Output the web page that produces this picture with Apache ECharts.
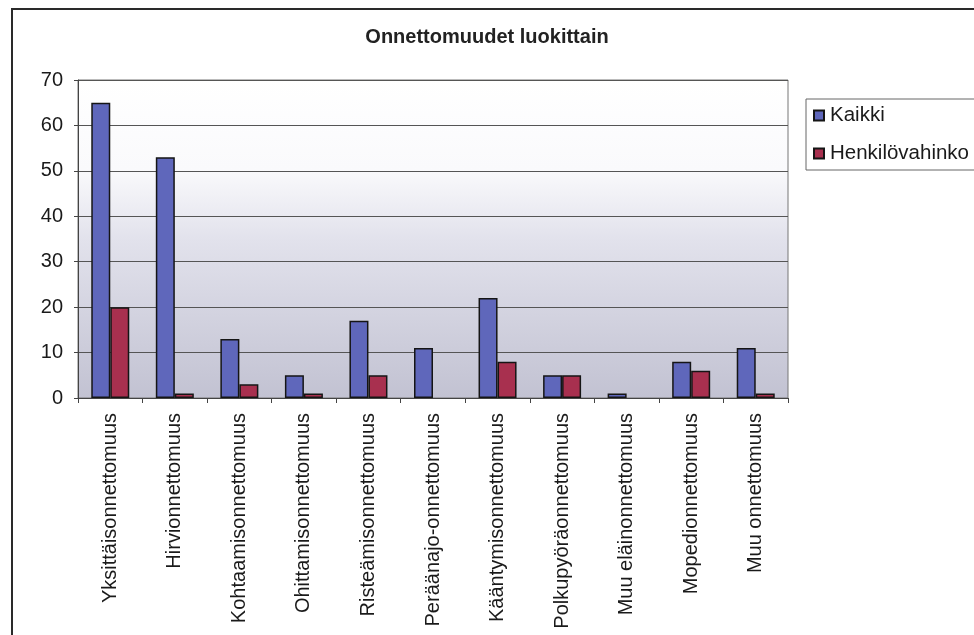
<!DOCTYPE html>
<html>
<head>
<meta charset="utf-8">
<script src="https://cdn.jsdelivr.net/npm/echarts@6/dist/echarts.min.js"></script>
<style>
html,body{margin:0;padding:0;background:#fff;}
#c{width:974px;height:635px;}
</style>
</head>
<body>
<div id="c"></div>
<script>
var chartTitle = 'Onnettomuudet luokittain';
var categories = ['Yksittäisonnettomuus','Hirvionnettomuus','Kohtaamisonnettomuus','Ohittamisonnettomuus','Risteämisonnettomuus','Peräänajo-onnettomuus','Kääntymisonnettomuus','Polkupyöräonnettomuus','Muu eläinonnettomuus','Mopedionnettomuus','Muu onnettomuus'];
var seriesNames = ['Kaikki','Henkilövahinko'];
var kaikki = [65, 53, 13, 5, 17, 11, 22, 5, 1, 8, 11];
var henkilovahinko = [20, 1, 3, 1, 5, 0, 8, 5, 0, 6, 1];
var yTicks = [0, 10, 20, 30, 40, 50, 60, 70];

// zero values draw no bar (as in the original), so pass them as empty
function barData(arr) { return arr.map(function (v) { return v === 0 ? '-' : v; }); }

var FONT = 'Liberation Sans, Arial, sans-serif';
var chart = echarts.init(document.getElementById('c'), null, {renderer:'canvas'});
chart.setOption({
  animation: false,
  backgroundColor: '#ffffff',
  graphic: [{
    type: 'rect', silent: true, z: -10,
    shape: {x: 12, y: 9, width: 1100, height: 800},
    style: {fill: 'none', stroke: '#2a2a2a', lineWidth: 2}
  }],
  title: {
    text: chartTitle,
    left: 'center',
    top: 27,
    padding: 0,
    textStyle: {fontFamily: FONT, fontSize: 20, fontWeight: 'bold', color: '#222'}
  },
  legend: {
    orient: 'vertical',
    left: 806,
    top: 99,
    padding: [6, 6, 6, 7],
    itemGap: 17,
    itemWidth: 10,
    itemHeight: 10,
    icon: 'rect',
    backgroundColor: '#ffffff',
    borderColor: '#666',
    borderWidth: 1,
    textStyle: {fontFamily: FONT, fontSize: 20.5, color: '#1a1a1a', padding: [0,0,0,1]},
    data: seriesNames
  },
  grid: {
    left: 78, top: 80, right: 186, bottom: 237,
    show: true,
    borderColor: '#777',
    borderWidth: 1,
    backgroundColor: {
      type: 'linear', x: 0, y: 0, x2: 0, y2: 1,
      colorStops: [
        {offset: 0, color: '#ffffff'},
        {offset: 0.28, color: '#fafafc'},
        {offset: 0.5, color: '#e2e2ec'},
        {offset: 1, color: '#c2c2d2'}
      ]
    }
  },
  xAxis: {
    type: 'category',
    data: categories,
    axisLine: {lineStyle: {color: '#444', width: 1}},
    axisTick: {show: true, length: 5, lineStyle: {color: '#444'}},
    axisLabel: {
      rotate: 90, interval: 0, margin: 15,
      fontFamily: FONT, fontSize: 20, color: '#1a1a1a'
    }
  },
  yAxis: {
    type: 'value',
    min: yTicks[0], max: yTicks[yTicks.length - 1], interval: 10,
    axisLine: {show: true, lineStyle: {color: '#444', width: 1}},
    axisTick: {show: true, length: 4, lineStyle: {color: '#444'}},
    axisLabel: {margin: 15, fontFamily: FONT, fontSize: 20, color: '#1a1a1a'},
    splitLine: {show: true, lineStyle: {color: '#555', width: 1}}
  },
  series: [{
    name: seriesNames[0],
    type: 'bar',
    data: barData(kaikki),
    barWidth: 19,
    barGap: '0%',
    itemStyle: {color: '#5f67bb', borderColor: '#151515', borderWidth: 1.5}
  }, {
    name: seriesNames[1],
    type: 'bar',
    data: barData(henkilovahinko),
    barWidth: 19,
    barGap: '0%',
    itemStyle: {color: '#a8304f', borderColor: '#151515', borderWidth: 1.5}
  }]
});
</script>
</body>
</html>
